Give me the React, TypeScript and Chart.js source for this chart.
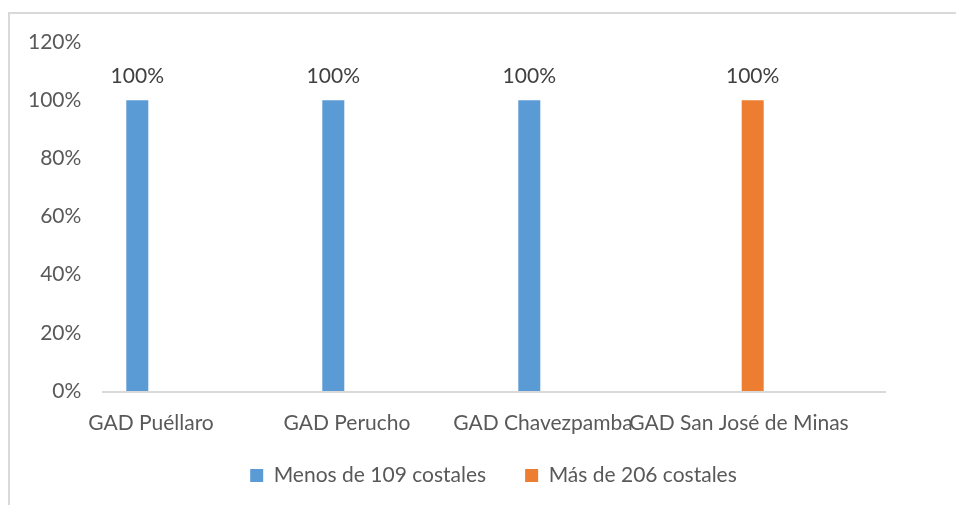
import React, { useEffect, useRef } from "react";
import { Chart, registerables } from "chart.js";

Chart.register(...registerables);

const categories = ["GAD Puéllaro", "GAD Perucho", "GAD Chavezpamba", "GAD San José de Minas"];
const seriesNames = ["Menos de 109 costales", "Más de 206 costales"];
const menos109 = [1, 1, 1, null];
const mas206 = [null, null, null, 1];
const yTicksMax = 1.2;
const yTicksStep = 0.2;

const FONT = "Lato";
const TEXT = "#595959";

const pct = (v: number) => Math.round(v * 100) + "%";

const dataLabelPlugin = {
  id: "dataLabels",
  afterDatasetsDraw(chart: any) {
    const ctx = chart.ctx;
    ctx.save();
    ctx.font = `21px ${FONT}`;
    ctx.fillStyle = "#404040";
    ctx.textAlign = "center";
    ctx.textBaseline = "middle";
    chart.data.datasets.forEach((ds: any, i: number) => {
      const meta = chart.getDatasetMeta(i);
      meta.data.forEach((bar: any, j: number) => {
        const v = ds.data[j];
        if (v == null) return;
        ctx.fillText(pct(v), bar.x, bar.y - 24);
      });
    });
    ctx.restore();
  },
};

const baselinePlugin = {
  id: "baseline",
  beforeDatasetsDraw(chart: any) {
    const { ctx, chartArea } = chart;
    const y = chart.scales.y.getPixelForValue(0);
    const w = (chartArea.right - chartArea.left) / categories.length;
    ctx.save();
    ctx.strokeStyle = "#d9d9d9";
    ctx.lineWidth = 2;
    ctx.beginPath();
    ctx.moveTo(chartArea.left + w / 4, y + 1);
    ctx.lineTo(chartArea.right + w / 4, y + 1);
    ctx.stroke();
    ctx.restore();
  },
};

export default function App() {
  const ref = useRef<HTMLCanvasElement | null>(null);

  useEffect(() => {
    if (!ref.current) return;
    const chart = new Chart(ref.current, {
      type: "bar",
      data: {
        labels: categories,
        datasets: [
          {
            label: seriesNames[0],
            data: menos109,
            backgroundColor: "#5B9BD5",
            borderWidth: 0,
            categoryPercentage: 0.2796,
            barPercentage: 0.803,
          },
          {
            label: seriesNames[1],
            data: mas206,
            backgroundColor: "#ED7D31",
            borderWidth: 0,
            categoryPercentage: 0.2796,
            barPercentage: 0.803,
          },
        ],
      },
      options: {
        responsive: false,
        maintainAspectRatio: false,
        animation: false,
        devicePixelRatio: 1,
        layout: { padding: { top: 42, left: 0, right: 0, bottom: 0 } },
        plugins: {
          tooltip: { enabled: false },
          legend: {
            position: "bottom",
            labels: {
              boxWidth: 13,
              boxHeight: 13,
              padding: 39,
              color: TEXT,
              font: { family: FONT, size: 21 },
            },
          },
        },
        scales: {
          x: {
            grid: { display: false, drawTicks: false },
            border: { display: false },
            ticks: {
              color: TEXT,
              font: { family: FONT, size: 21, lineHeight: 1 },
              mirror: true,
              padding: -42.5,
              maxRotation: 0,
              autoSkip: false,
            },
            afterFit(s: any) {
              s.height = 35;
            },
          },
          y: {
            min: 0,
            max: yTicksMax,
            grid: { display: false, drawTicks: false },
            border: { display: false },
            ticks: {
              stepSize: yTicksStep,
              color: TEXT,
              font: { family: FONT, size: 21 },
              mirror: true,
              crossAlign: "far",
              padding: -25,
              callback: (v: any) => pct(Number(v)),
            },
            afterFit(s: any) {
              s.width = 53;
            },
          },
          yR: {
            type: "linear",
            position: "right",
            grid: { display: false },
            border: { display: false },
            ticks: { display: false },
            afterFit(s: any) {
              s.width = 150;
            },
          },
        },
      },
      plugins: [baselinePlugin, dataLabelPlugin],
    } as any);
    return () => chart.destroy();
  }, []);

  return (
    <div
      style={{
        position: "fixed",
        left: 0,
        top: 0,
        width: 956,
        height: 505,
        overflow: "hidden",
        background: "#fff",
      }}
    >
      <div
        style={{
          position: "absolute",
          left: 8,
          top: 12,
          width: 1100,
          height: 700,
          border: "2px solid #d9d9d9",
          boxSizing: "border-box",
        }}
      />
      <canvas
        ref={ref}
        width={987}
        height={496}
        style={{ position: "absolute", left: 0, top: 0, width: 987, height: 496 }}
      />
    </div>
  );
}
